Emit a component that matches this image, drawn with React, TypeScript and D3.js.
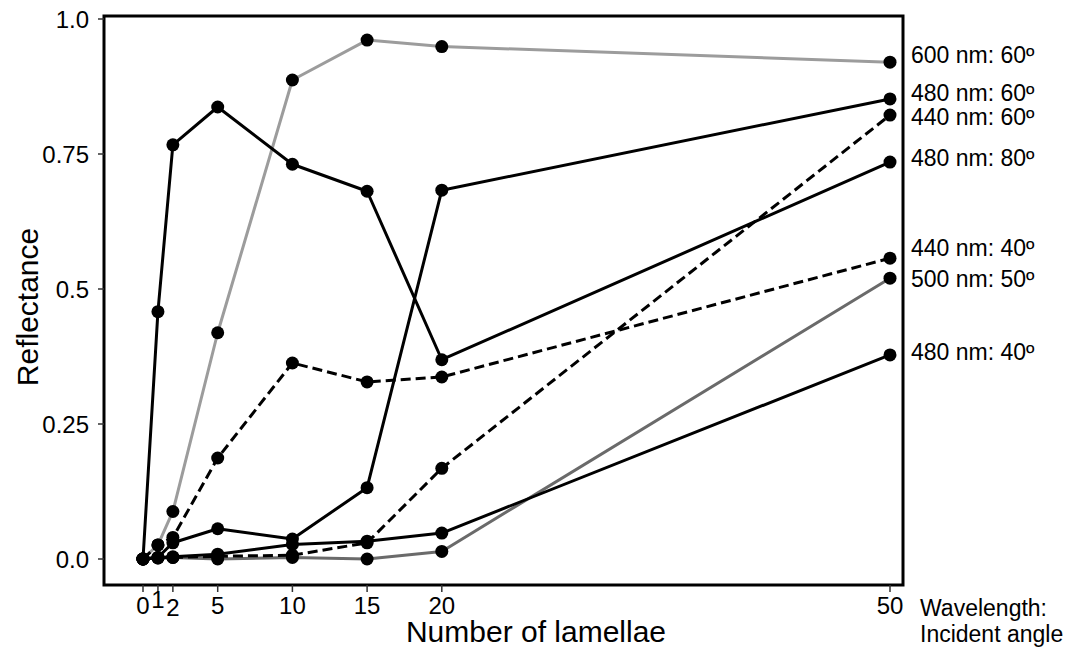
import React from "react";
import * as d3 from "d3";

// ---- data ----
const lamellae = [0, 1, 2, 5, 10, 15, 20, 50];
const xTickLabels = ["0", "1", "2", "5", "10", "15", "20", "50"];
const yTicks = [0, 0.25, 0.5, 0.75, 1.0];
const yTickLabels = ["0.0", "0.25", "0.5", "0.75", "1.0"];

const r600_60 = [0, 0.026, 0.088, 0.419, 0.887, 0.961, 0.949, 0.92];
const r480_60 = [0, 0.003, 0.03, 0.056, 0.037, 0.132, 0.683, 0.852];
const r440_60 = [0, 0.002, 0.003, 0.005, 0.007, 0.03, 0.168, 0.822];
const r480_80 = [0, 0.458, 0.767, 0.837, 0.731, 0.681, 0.369, 0.735];
const r440_40 = [0, 0.026, 0.04, 0.187, 0.363, 0.328, 0.337, 0.557];
const r500_50 = [0, 0.002, 0.003, 0.0, 0.003, 0.0, 0.014, 0.52];
const r480_40 = [0, 0.003, 0.004, 0.009, 0.027, 0.033, 0.048, 0.378];

const seriesNames = [
  "600 nm: 60º",
  "480 nm: 60º",
  "440 nm: 60º",
  "480 nm: 80º",
  "440 nm: 40º",
  "500 nm: 50º",
  "480 nm: 40º",
];
const seriesValues = [r600_60, r480_60, r440_60, r480_80, r440_40, r500_50, r480_40];

// ---- styles / layout ----
const seriesColor = ["#9c9c9c", "#000", "#000", "#000", "#000", "#6a6a6a", "#000"];
const seriesDash = [null, null, "10,5", null, "10,5", null, null];
const labelNudge = [-7, -6, 2, -4, -10, 1, -3];
const xTickDy = [0, -6, 2, 0, 0, 0, 0, 0];
const drawOrder = [0, 5, 6, 1, 3, 2, 4];

const W = 1086;
const H = 647;
const frame = { left: 104, right: 903, top: 16, bottom: 585 };
const FONT = "'Liberation Sans', Arial, Helvetica, sans-serif";

export default function App() {
  const x = d3.scaleLinear().domain([0, 50]).range([143, 890]);
  const y = d3.scaleLinear().domain([0, 1]).range([559, 19]);
  const line = d3
    .line<number>()
    .x((_, i) => x(lamellae[i]))
    .y((d) => y(d));

  return (
    <svg
      width={W}
      height={H}
      style={{ position: "fixed", left: 0, top: 0, background: "#fff" }}
      fontFamily={FONT}
    >
      <rect x={0} y={0} width={W} height={H} fill="#fff" />
      {/* lines */}
      {drawOrder.map((si) => (
        <path
          key={"l" + si}
          d={line(seriesValues[si]) || ""}
          fill="none"
          stroke={seriesColor[si]}
          strokeWidth={3}
          strokeDasharray={seriesDash[si] || undefined}
          strokeLinejoin="round"
        />
      ))}
      {/* points */}
      {drawOrder.map((si) =>
        seriesValues[si].map((v, i) => (
          <circle key={"p" + si + "-" + i} cx={x(lamellae[i])} cy={y(v)} r={6.5} fill="#000" />
        ))
      )}
      {/* frame */}
      <rect
        x={frame.left}
        y={frame.top}
        width={frame.right - frame.left}
        height={frame.bottom - frame.top}
        fill="none"
        stroke="#000"
        strokeWidth={3}
      />
      {/* y axis ticks */}
      {yTicks.map((t, i) => (
        <g key={"yt" + i}>
          <line x1={98} x2={frame.left} y1={y(t)} y2={y(t)} stroke="#333" strokeWidth={1.5} />
          <text x={89} y={y(t) + 8.5} textAnchor="end" fontSize={24} fill="#000">
            {yTickLabels[i]}
          </text>
        </g>
      ))}
      {/* x axis ticks */}
      {lamellae.map((t, i) => (
        <g key={"xt" + i}>
          <line x1={x(t)} x2={x(t)} y1={frame.bottom} y2={frame.bottom + 7} stroke="#333" strokeWidth={1.5} />
          <text x={x(t)} y={614 + xTickDy[i]} textAnchor="middle" fontSize={24} fill="#000">
            {xTickLabels[i]}
          </text>
        </g>
      ))}
      {/* axis titles */}
      <text x={536} y={642} textAnchor="middle" fontSize={30} fill="#000">
        Number of lamellae
      </text>
      <text
        transform={`translate(38,307) rotate(-90)`}
        textAnchor="middle"
        fontSize={30}
        fill="#000"
      >
        Reflectance
      </text>
      {/* series labels */}
      {seriesValues.map((vals, si) => (
        <text
          key={"lab" + si}
          x={911}
          y={y(vals[vals.length - 1]) + labelNudge[si] + 8}
          fontSize={23}
          fill="#000"
        >
          {seriesNames[si]}
        </text>
      ))}
      <text x={920} y={616} fontSize={23} fill="#000">
        Wavelength:
      </text>
      <text x={920} y={642} fontSize={23} fill="#000">
        Incident angle
      </text>
    </svg>
  );
}
